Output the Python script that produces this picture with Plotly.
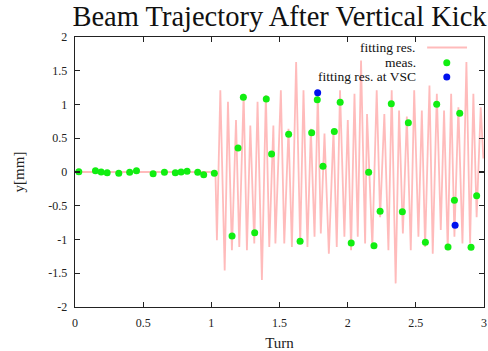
import plotly.graph_objects as go

# ---- data ----
fit_turn = [0.0, 1.03, 1.041, 1.066, 1.098, 1.122, 1.151, 1.181, 1.205, 1.237, 1.261,
            1.286, 1.315, 1.339, 1.371, 1.400, 1.425, 1.455, 1.470, 1.510, 1.535,
            1.566, 1.591, 1.622, 1.652, 1.676, 1.705, 1.730, 1.757, 1.781, 1.803,
            1.830, 1.862, 1.896, 1.920, 1.944, 1.976, 2.001, 2.025, 2.050, 2.074,
            2.098, 2.128, 2.142, 2.181, 2.213, 2.238, 2.269, 2.299, 2.323, 2.352,
            2.377, 2.405, 2.434, 2.463, 2.488, 2.519, 2.544, 2.568, 2.600, 2.624,
            2.654, 2.683, 2.707, 2.734, 2.759, 2.783, 2.812, 2.842, 2.871, 2.898,
            2.922, 2.946, 2.976, 2.995]
fit_y = [0.0, 0.0, -1.01, 1.21, -1.46, 1.04, -1.16, 0.77, -1.11, 1.16, -1.16,
         0.69, -1.06, 1.04, -1.60, 1.14, -1.11, 0.69, -1.06, 1.21, -1.06,
         0.64, -1.11, 1.63, -1.06, 1.21, -1.11, 0.64, -0.96, 1.16, -0.91,
         0.57, -1.21, 0.62, -1.11, 1.21, -0.96, 0.77, -1.16, 1.16, -0.96,
         1.65, -1.06, 0.86, -1.11, 1.21, -0.67, 0.86, -1.16, 1.21, -1.65,
         0.91, -0.91, 0.82, -1.16, 1.21, -0.96, 0.91, -1.11, 1.28, -1.21,
         1.16, -0.86, 0.91, -1.16, 1.16, -0.96, 0.96, -1.06, 1.63, -1.06,
         1.16, -0.67, 0.96, 0.20]

meas_turn = [0.028, 0.150, 0.192, 0.236, 0.321, 0.401, 0.451, 0.573, 0.656, 0.736,
             0.778, 0.822, 0.900, 0.944, 1.022, 1.152, 1.196, 1.235, 1.318, 1.403,
             1.442, 1.567, 1.651, 1.736, 1.777, 1.819, 1.902, 1.945, 2.026, 2.154,
             2.193, 2.238, 2.320, 2.401, 2.445, 2.570, 2.653, 2.736, 2.783, 2.822,
             2.905, 2.946]
meas_y = [0.005, 0.02, 0.0, -0.01, -0.02, -0.005, 0.02, -0.025, -0.005, -0.01,
          0.0, 0.01, -0.005, -0.04, -0.02, -0.948, 0.356, 1.107, -0.899, 1.081,
          0.267, 0.558, -1.027, 0.582, 1.071, 0.084, 0.60, 1.032, -1.052, -0.005,
          -1.091, -0.583, 1.012, -0.588, 0.731, -1.042, 1.003, -1.111, -0.420, 0.869,
          -1.116, -0.351]

vsc_turn = [1.780, 2.788]
vsc_y = [1.175, -0.79]

x_ticks = [0, 0.5, 1, 1.5, 2, 2.5, 3]
x_tick_labels = ["0", "0.5", "1", "1.5", "2", "2.5", "3"]
y_ticks = [-2, -1.5, -1, -0.5, 0, 0.5, 1, 1.5, 2]
y_tick_labels = ["-2", "-1.5", "-1", "-0.5", "0", "0.5", "1", "1.5", "2"]

legend_labels = ["fitting res.", "meas.", "fitting res. at VSC"]

FONT = "Liberation Serif"
LINE_COL = "rgba(255,30,30,0.30)"
GREEN = "#11ee11"
BLUE = "#0011ee"

fig = go.Figure()
fig.add_trace(go.Scatter(x=fit_turn, y=fit_y, mode="lines",
                         line=dict(color=LINE_COL, width=1.8),
                         name=legend_labels[0], showlegend=False))
fig.add_trace(go.Scatter(x=meas_turn, y=meas_y, mode="markers",
                         marker=dict(color=GREEN, size=7),
                         name=legend_labels[1], showlegend=False))
fig.add_trace(go.Scatter(x=vsc_turn, y=vsc_y, mode="markers",
                         marker=dict(color=BLUE, size=7),
                         name=legend_labels[2], showlegend=False))

axis_common = dict(showline=True, linecolor="#222", linewidth=1.4, mirror="ticks",
                   ticks="inside", ticklen=5, tickcolor="#222", tickwidth=1.2,
                   showgrid=False, zeroline=False, automargin=False,
                   tickfont=dict(family=FONT, size=12, color="#222"))

fig.update_layout(
    width=488, height=351,
    margin=dict(l=75, r=4, t=37, b=44, autoexpand=False),
    paper_bgcolor="white", plot_bgcolor="white",
    title=dict(text="Beam Trajectory After Vertical Kick",
               font=dict(family=FONT, size=28.5, color="#111"),
               x=0.5, xref="paper", xanchor="center",
               y=0.955, yref="container", yanchor="middle"),
    xaxis=dict(range=[0, 3], tickvals=x_ticks, ticktext=x_tick_labels,
               ticklabelstandoff=4,
               title=dict(text="Turn", font=dict(family=FONT, size=15, color="#222"),
                          standoff=10),
               **axis_common),
    yaxis=dict(range=[-2, 2], tickvals=y_ticks, ticktext=y_tick_labels,
               ticklabelstandoff=4,
               title=dict(text="y[mm]", font=dict(family=FONT, size=15, color="#222"),
                          standoff=20),
               **axis_common),
    showlegend=False,
)

# gnuplot-style key (text right-aligned, sample on the right)
key_rows_y = [0.9607, 0.905, 0.852]
for lab, yy in zip(legend_labels, key_rows_y):
    fig.add_annotation(text=lab, xref="paper", yref="paper", x=0.839, y=yy,
                       xanchor="right", yanchor="middle", showarrow=False,
                       font=dict(family=FONT, size=13.5, color="#111"))
fig.add_shape(type="line", xref="paper", yref="paper", x0=0.861, x1=0.9585,
              y0=key_rows_y[0], y1=key_rows_y[0],
              line=dict(color="rgba(255,30,30,0.3)", width=2))
for yy, col in zip(key_rows_y[1:], [GREEN, BLUE]):
    fig.add_shape(type="circle", xref="paper", yref="paper",
                  xsizemode="pixel", ysizemode="pixel", xanchor=0.909, yanchor=yy,
                  x0=-3.5, x1=3.5, y0=-3.5, y1=3.5,
                  fillcolor=col, line=dict(width=0))

# remove the page's default body margin so the figure fills the window exactly
fig.write_html("out.html",
               config={"displayModeBar": False, "staticPlot": True},
               post_script="document.body.style.margin='0';"
                           "document.body.style.overflow='hidden';")
